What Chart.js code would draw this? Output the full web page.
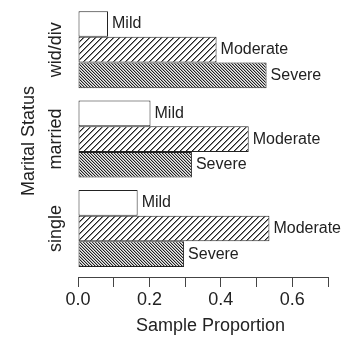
<!DOCTYPE html>
<html>
<head>
<meta charset="utf-8">
<script src="https://cdn.jsdelivr.net/npm/chart.js@4"></script>
<style>
  body { margin: 0; background: #fff; }
</style>
</head>
<body>
<canvas id="chart" width="343" height="337"></canvas>
<script>
// categories from bottom to top, like the R barplot
const categories = ['single', 'married', 'wid/div'];
const severityNames = ['Mild', 'Moderate', 'Severe'];
const mild = [0.167, 0.203, 0.084];
const moderate = [0.536, 0.478, 0.388];
const severe = [0.297, 0.319, 0.528];
const xTicks = [0, 0.1, 0.2, 0.3, 0.4, 0.5, 0.6, 0.7];

const FONT = '"Liberation Sans", Arial, sans-serif';
const INK = '#222';
Chart.defaults.font.family = FONT;
Chart.defaults.color = INK;

// hatch patterns, drawn pixel by pixel; shades[k] is the colour k pixels off the line
function hatch(period, dir, shades) {
  const c = document.createElement('canvas');
  c.width = c.height = period;
  const g = c.getContext('2d');
  for (let x = 0; x < period; x++) {
    for (let y = 0; y < period; y++) {
      const k = dir === '/' ? (x + y) % period : (x - y + period) % period;
      g.fillStyle = shades[k] || '#fff';
      g.fillRect(x, y, 1, 1);
    }
  }
  return g.createPattern(c, 'repeat');
}

const fills = ['#fff', hatch(6, '/', [INK, '#888']), hatch(3, '\\', [INK, '#aaa', '#eee'])];
const series = [mild, moderate, severe];

// text right of every bar
const barLabels = {
  id: 'barLabels',
  afterDatasetsDraw(chart) {
    const ctx = chart.ctx;
    ctx.save();
    ctx.font = '16px ' + FONT;
    ctx.fillStyle = INK;
    ctx.textBaseline = 'middle';
    chart.data.datasets.forEach((ds, i) => {
      chart.getDatasetMeta(i).data.forEach(bar => {
        ctx.fillText(ds.label, bar.x + 4, bar.y);
      });
    });
    ctx.restore();
  }
};

new Chart(document.getElementById('chart'), {
  type: 'bar',
  data: {
    datasets: series.map((vals, i) => ({
      label: severityNames[i],
      data: vals.map((v, j) => ({ x: v, y: j })),
      backgroundColor: fills[i],
      borderColor: INK,
      borderWidth: 1,
      borderSkipped: false,
      barPercentage: 1,
      categoryPercentage: 0.861
    }))
  },
  options: {
    indexAxis: 'y',
    responsive: false,
    animation: false,
    devicePixelRatio: 1,
    layout: { padding: { left: 0, right: 15, top: 5, bottom: 0 } },
    plugins: { legend: { display: false }, tooltip: { enabled: false } },
    scales: {
      x: {
        type: 'linear',
        min: 0,
        max: 0.7,
        afterBuildTicks: s => { s.ticks = xTicks.map(v => ({ value: v })); },
        afterFit: s => { s.height = 60; },
        grid: { drawOnChartArea: false, drawTicks: true, tickLength: 10, color: '#444', lineWidth: 1 },
        border: { display: true, color: '#444', width: 1 },
        ticks: {
          autoSkip: false,
          maxRotation: 0,
          padding: 2,
          font: { size: 18 },
          color: INK,
          callback: (v, i) => (i % 2 ? '' : v.toFixed(1))
        },
        title: {
          display: true,
          text: '   Sample Proportion',
          font: { size: 18 },
          color: INK,
          padding: { top: 0, bottom: 0 }
        }
      },
      y: {
        type: 'linear',
        min: -0.5425,
        max: 2.5,
        offset: false,
        afterBuildTicks: s => { s.ticks = categories.map((c, i) => ({ value: i })); },
        afterFit: s => { s.width = 78; },
        grid: { display: false, drawTicks: false },
        border: { display: false },
        ticks: {
          minRotation: 90,
          maxRotation: 90,
          crossAlign: 'center',
          padding: -9,
          font: { size: 18 },
          color: INK,
          callback: v => categories[v]
        },
        title: {
          display: true,
          text: 'Marital Status',
          font: { size: 18 },
          color: INK,
          padding: { top: 18, bottom: 0 }
        }
      }
    }
  },
  plugins: [barLabels]
});
</script>
</body>
</html>
